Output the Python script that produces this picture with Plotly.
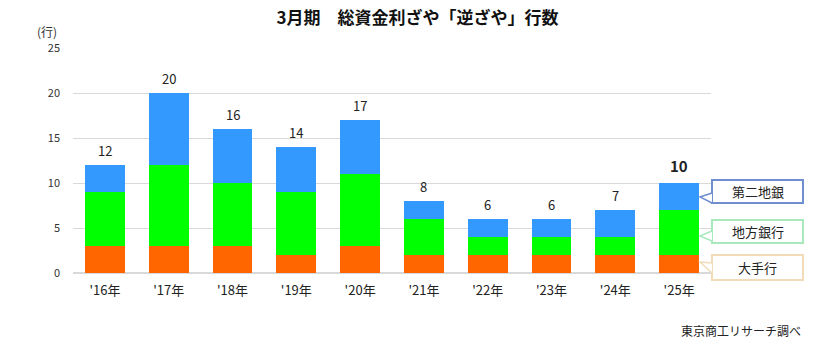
import plotly.graph_objects as go

years = ["'16年", "'17年", "'18年", "'19年", "'20年", "'21年", "'22年", "'23年", "'24年", "'25年"]
major = [3, 3, 3, 2, 3, 2, 2, 2, 2, 2]
regional = [6, 9, 7, 7, 8, 4, 2, 2, 2, 5]
second = [3, 8, 6, 5, 6, 2, 2, 2, 3, 3]
totals = [a + b + c for a, b, c in zip(major, regional, second)]
series_names = ["大手行", "地方銀行", "第二地銀"]
colors = ["#ff6600", "#00ff00", "#3399ff"]
border_colors = ["#f2dcb8", "#a8e8bc", "#6f8fcf"]

FONT = "Noto Sans CJK JP"
W, H = 840, 352
L, R, T, B = 73, 129, 48, 79

fig = go.Figure()
for name, vals, col in zip(series_names, [major, regional, second], colors):
    fig.add_trace(go.Bar(x=years, y=vals, name=name, marker=dict(color=col, line=dict(width=0)),
                         hoverinfo="y+name"))

for i, (yr, t) in enumerate(zip(years, totals)):
    last = i == len(totals) - 1
    fig.add_annotation(x=yr, y=t, xref="x", yref="y", text=("<b>%d</b>" % t) if last else str(t),
                       showarrow=False, yanchor="middle", yshift=18 if last else 15,
                       font=dict(size=15 if last else 13, color="#222222", family=FONT))

fig.update_layout(
    width=W, height=H, barmode="stack", bargap=0.375,
    margin=dict(l=L, r=R, t=T, b=B),
    paper_bgcolor="white", plot_bgcolor="white",
    showlegend=False,
    font=dict(family=FONT, color="#333333"),
    title=dict(text="<b>3月期　総資金利ざや「逆ざや」行数</b>", x=0.497, xanchor="center",
               y=1 - 18 / H, yanchor="middle", font=dict(size=17, color="#111111", family=FONT)),
    xaxis=dict(showgrid=False, ticks="", tickfont=dict(size=13, color="#222222"),
               showline=False, zeroline=False, ticklabelstandoff=8),
    yaxis=dict(range=[0, 25], dtick=5, showgrid=True, gridcolor="#d9d9d9", gridwidth=1,
               zeroline=True, zerolinecolor="#d9d9d9", ticks="", ticklabelstandoff=12,
               tickfont=dict(size=11, color="#333333")),
)

fig.add_annotation(text="(行)", xref="paper", yref="paper", x=-0.04, y=1 + 16 / (H - T - B),
                   xanchor="center", yanchor="middle", showarrow=False,
                   font=dict(size=12, color="#333333"))
fig.add_annotation(text="東京商工リサーチ調べ", xref="paper", yref="paper",
                   x=(803 - L) / (W - L - R), y=-(330 - (H - B)) / (H - T - B),
                   xanchor="right", yanchor="middle", showarrow=False,
                   font=dict(size=12, color="#222222"))

pw = W - L - R
ph = H - T - B
def px(xp):
    return (xp - L) / pw
def py(yp):
    return (H - B - yp) / ph

boxes = [(255, 280, 268, "大手行"), (220, 243, 236, "地方銀行"), (180, 203, 198, "第二地銀")]
tips = [(700, 262), (700, 236), (700, 197)]
for (y0, y1, yt, txt), bc, (tx, ty) in zip(boxes, border_colors, tips):
    x0, x1 = 712, 803
    fig.add_shape(type="rect", xref="paper", yref="paper", x0=px(x0), x1=px(x1),
                  y0=py(y1), y1=py(y0), line=dict(color=bc, width=2), fillcolor="white")
    path = (f"M {px(x0)},{py(yt - 5)} L {px(tx)},{py(ty)} L {px(x0)},{py(yt + 5)}")
    fig.add_shape(type="path", xref="paper", yref="paper", path=path,
                  line=dict(color=bc, width=1.5), fillcolor="white")
    fig.add_annotation(text=txt, xref="paper", yref="paper", x=px((x0 + x1) / 2),
                       y=py((y0 + y1) / 2), xanchor="center", yanchor="middle",
                       showarrow=False, font=dict(size=13, color="#222222"))

fig.write_html("out.html")
